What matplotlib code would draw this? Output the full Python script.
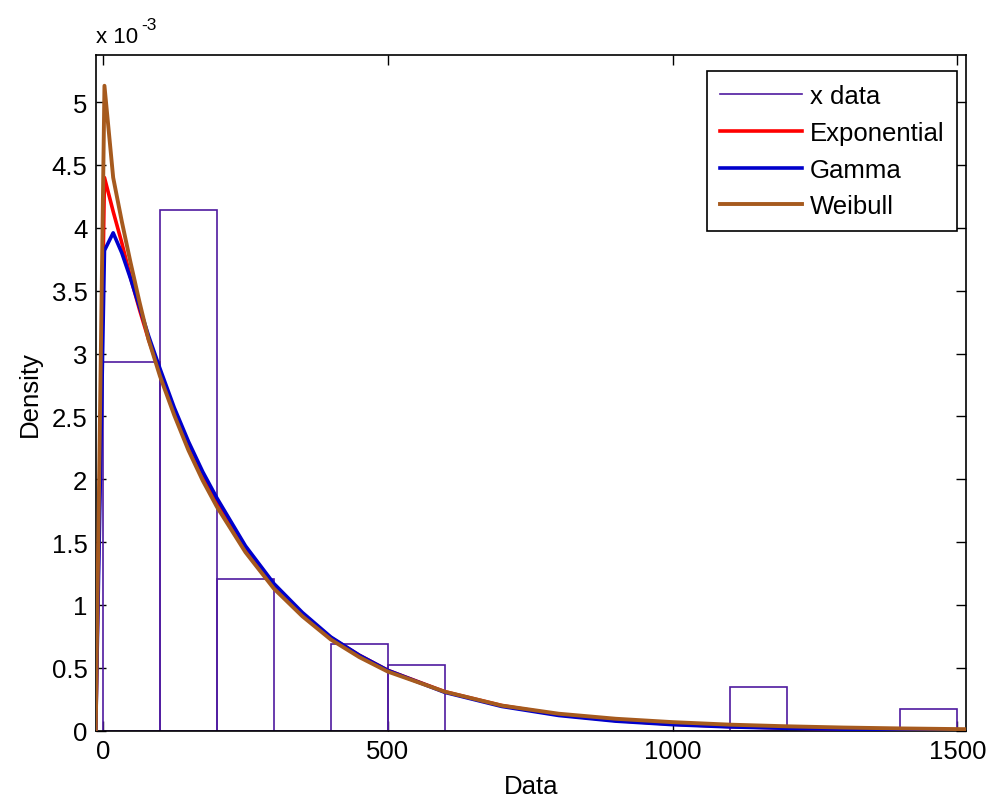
import matplotlib
matplotlib.use('Agg')
import matplotlib.pyplot as plt
from matplotlib.lines import Line2D
from matplotlib.ticker import FuncFormatter

SCALE = 1e-3  # densities below are in units of 1e-3

# Histogram of x data: left edges of the 100-wide bins and bin densities
bin_left = [0, 100, 200, 300, 400, 500, 600, 700, 800, 900, 1000, 1100, 1200, 1300, 1400]
bin_density = [2.93, 4.14, 1.21, 0.0, 0.69, 0.52, 0.0, 0.0, 0.0, 0.0, 0.0, 0.345, 0.0, 0.0, 0.172]
BIN_WIDTH = 100

# Fitted densities evaluated along the x range
x_grid = [-12.8, 2.5, 17.8, 33, 48, 64, 80, 100, 125, 150, 175, 200, 250, 300, 350,
          400, 450, 500, 600, 700, 800, 900, 1000, 1100, 1200, 1300, 1400, 1515]
exp_pdf = [0, 4.40, 4.13, 3.88, 3.61, 3.35, 3.11, 2.85, 2.55, 2.28, 2.04, 1.83, 1.46, 1.16, 0.93,
           0.74, 0.60, 0.48, 0.31, 0.20, 0.127, 0.081, 0.052, 0.033, 0.021, 0.014, 0.009, 0.005]
gamma_pdf = [0, 3.82, 3.96, 3.80, 3.60, 3.37, 3.14, 2.88, 2.57, 2.30, 2.06, 1.85, 1.47, 1.17, 0.94,
             0.745, 0.60, 0.48, 0.305, 0.193, 0.121, 0.076, 0.048, 0.030, 0.019, 0.012, 0.008, 0.005]
weibull_pdf = [0, 5.13, 4.40, 4.05, 3.73, 3.41, 3.11, 2.82, 2.51, 2.23, 1.99, 1.78, 1.42, 1.13, 0.91,
               0.725, 0.585, 0.47, 0.31, 0.20, 0.135, 0.095, 0.068, 0.048, 0.035, 0.025, 0.018, 0.012]

x_ticks = [0, 500, 1000, 1500]
y_ticks = [0, 0.5, 1, 1.5, 2, 2.5, 3, 3.5, 4, 4.5, 5]

DATA_COLOR = '#4f1aa0'
EXP_COLOR = '#ff0000'
GAMMA_COLOR = '#0000cc'
WEIBULL_COLOR = '#a65a1e'
FONT_SIZE = 18.5

plt.rcParams['font.family'] = ['Liberation Sans', 'DejaVu Sans']
plt.rcParams['font.size'] = FONT_SIZE

fig = plt.figure(figsize=(9.86, 8.03), dpi=100)
ax = fig.add_axes([0.0971, 0.0888, 0.8826, 0.8415])

ax.bar(bin_left, [d * SCALE for d in bin_density], width=BIN_WIDTH, align='edge',
       fill=False, edgecolor=DATA_COLOR, linewidth=1.2, zorder=2)

scaled = lambda vals: [v * SCALE for v in vals]
ax.plot(x_grid, scaled(exp_pdf), color=EXP_COLOR, linewidth=2.6, zorder=3)
ax.plot(x_grid, scaled(gamma_pdf), color=GAMMA_COLOR, linewidth=2.6, zorder=4)
ax.plot(x_grid, scaled(weibull_pdf), color=WEIBULL_COLOR, linewidth=2.8, zorder=5)

ax.set_xlim(-12.8, 1515)
ax.set_ylim(0, 5.375 * SCALE)
ax.set_xticks(x_ticks)
ax.set_yticks([t * SCALE for t in y_ticks])
ax.yaxis.set_major_formatter(FuncFormatter(lambda v, _: f"{v / SCALE:g}"))
ax.tick_params(direction='in', top=True, right=True, length=7, width=1.0, pad=6,
               colors='black', labelsize=FONT_SIZE)
for side in ax.spines.values():
    side.set_linewidth(1.2)

ax.set_xlabel('Data', fontsize=FONT_SIZE, labelpad=8)
ax.set_ylabel('Density', fontsize=FONT_SIZE, labelpad=7)

# exponent label above the y axis, written MATLAB-style with a plain hyphen
fig.text(96 / 986, 1 - 43 / 803, 'x 10', fontsize=16, ha='left', va='baseline')
fig.text(141 / 986, 1 - 30 / 803, '-3', fontsize=12.5, ha='left', va='baseline')

handles = [
    Line2D([], [], color=DATA_COLOR, linewidth=1.2),
    Line2D([], [], color=EXP_COLOR, linewidth=2.6),
    Line2D([], [], color=GAMMA_COLOR, linewidth=2.6),
    Line2D([], [], color=WEIBULL_COLOR, linewidth=2.8),
]
labels = ['x data', 'Exponential', 'Gamma', 'Weibull']
leg = ax.legend(handles, labels, loc='upper right', bbox_to_anchor=(0.9897, 0.9763),
                borderaxespad=0, fancybox=False, framealpha=1, edgecolor='black',
                handlelength=3.2, handletextpad=0.3, labelspacing=0.5,
                borderpad=0.5, fontsize=FONT_SIZE)
leg.get_frame().set_linewidth(1.2)

fig.savefig('out.png', dpi=100)
